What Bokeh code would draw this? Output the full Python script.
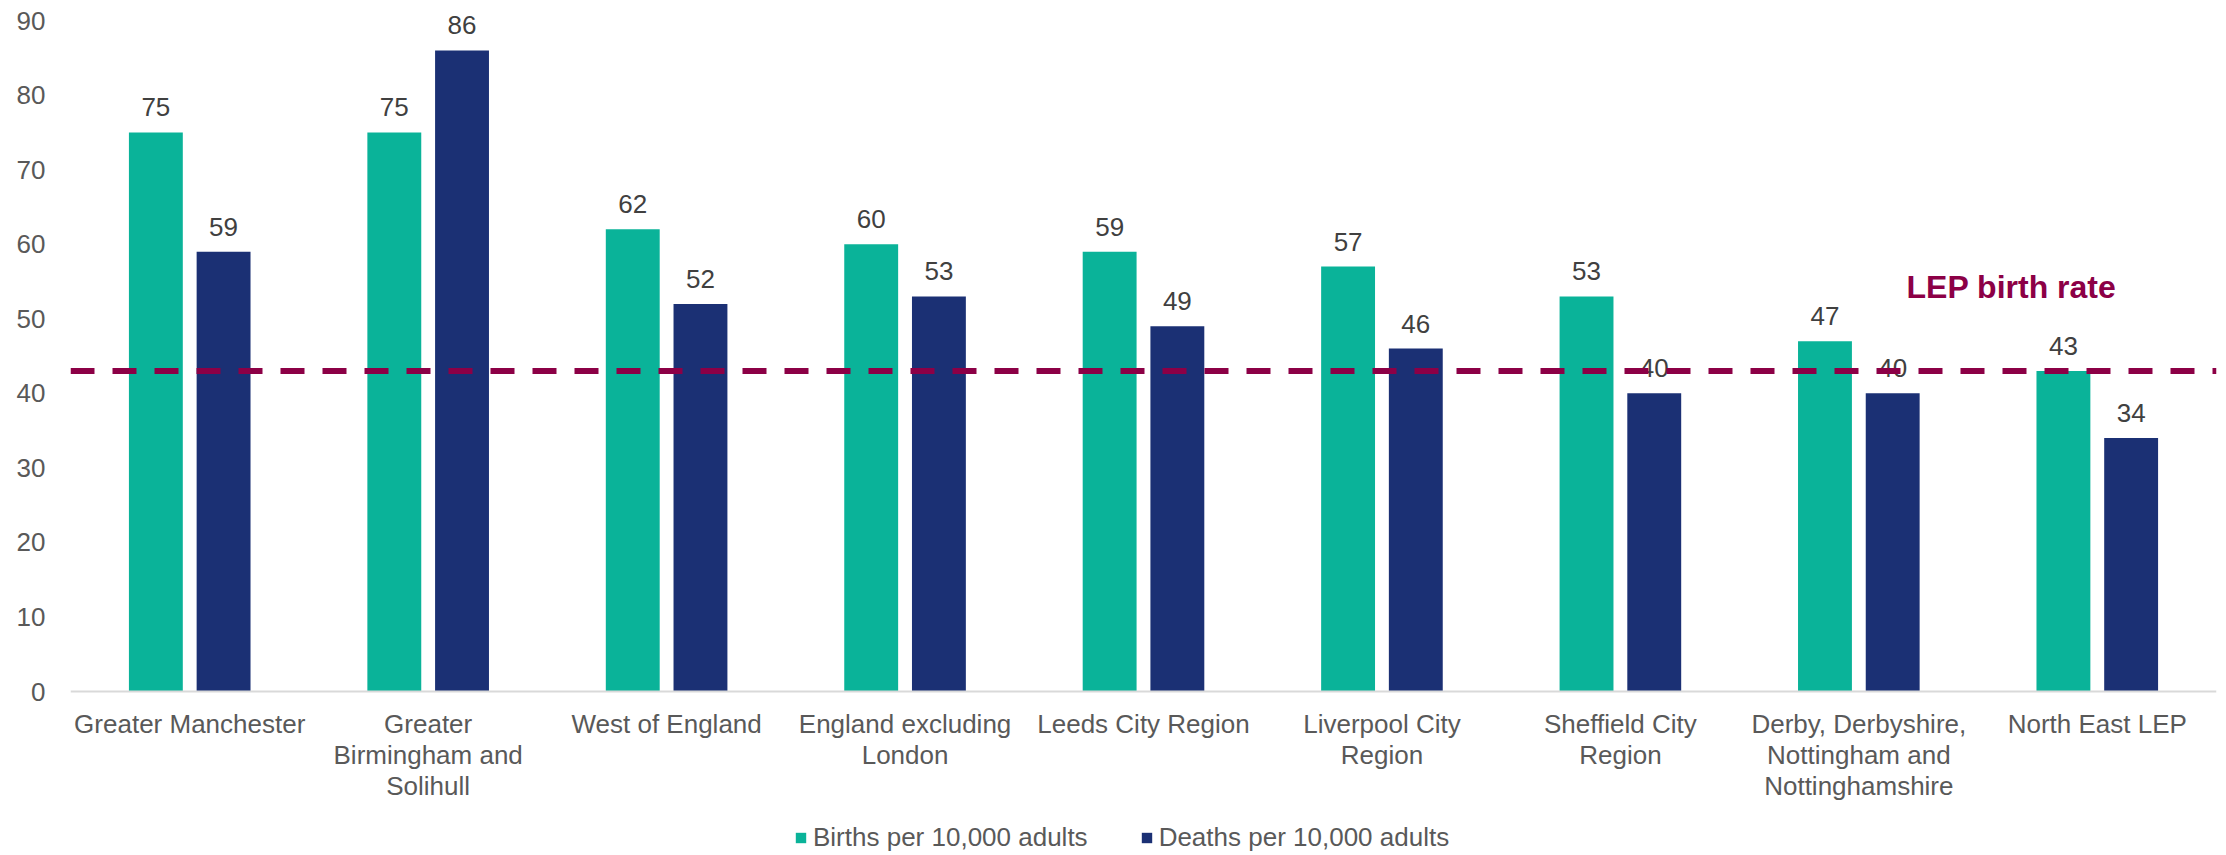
from bokeh.plotting import figure
from bokeh.models import (FactorRange, Range1d, FixedTicker, Span, Label, Legend,
                          LegendItem, ColumnDataSource)
from bokeh.transform import dodge
from bokeh.embed import file_html
from bokeh.resources import INLINE

categories = ["Greater Manchester", "Greater Birmingham and Solihull", "West of England",
              "England excluding London", "Leeds City Region", "Liverpool City Region",
              "Sheffield City Region", "Derby, Derbyshire, Nottingham and Nottinghamshire",
              "North East LEP"]
category_lines = [["Greater Manchester"], ["Greater", "Birmingham and", "Solihull"],
                  ["West of England"], ["England excluding", "London"],
                  ["Leeds City Region"], ["Liverpool City", "Region"],
                  ["Sheffield City", "Region"],
                  ["Derby, Derbyshire,", "Nottingham and", "Nottinghamshire"],
                  ["North East LEP"]]
births = [75, 75, 62, 60, 59, 57, 53, 47, 43]
deaths = [59, 86, 52, 53, 49, 46, 40, 40, 34]
lep_birth_rate = 43
y_ticks = [0, 10, 20, 30, 40, 50, 60, 70, 80, 90]

GREEN = "#0AB399"
NAVY = "#1B3074"
MAROON = "#8C0046"
FONT = "Liberation Sans"
FS = "26px"

src = ColumnDataSource(dict(cat=categories, births=births, deaths=deaths,
                            blab=[str(v) for v in births], dlab=[str(v) for v in deaths]))

p = figure(width=2226, height=855, x_range=FactorRange(factors=categories),
           y_range=Range1d(-22.0, 92.7), output_backend="svg", toolbar_location=None,
           min_border_left=70, min_border_right=10, min_border_top=0, min_border_bottom=0)

# axis baseline
p.add_layout(Span(location=0, dimension="width", line_color="#D9D9D9", line_width=2))

off = 0.142
bw = 0.226
r1 = p.vbar(x=dodge("cat", -off, range=p.x_range), top="births", width=bw, source=src,
            fill_color=GREEN, line_color=None)
r2 = p.vbar(x=dodge("cat", off, range=p.x_range), top="deaths", width=bw, source=src,
            fill_color=NAVY, line_color=None)

for col, lab, dx in (("births", "blab", -off), ("deaths", "dlab", off)):
    p.text(x=dodge("cat", dx, range=p.x_range), y=col, text=lab, source=src,
           text_align="center", text_baseline="alphabetic", y_offset=-25,
           text_font_size=FS, text_color="#404040", text_font={"value": FONT})

p.add_layout(Span(location=lep_birth_rate, dimension="width", line_color=MAROON,
                  line_width=6, line_dash="24 18"))
p.add_layout(Label(x=8.14, y=54.3, text="LEP birth rate", text_align="center",
                   text_baseline="middle", text_font_size="32px", text_font_style="bold",
                   text_color=MAROON, text_font=FONT))

# category labels below the baseline, one text row per line index
max_lines = max(len(l) for l in category_lines)
for j in range(max_lines):
    cats_j = [c for c, l in zip(categories, category_lines) if len(l) > j]
    txt_j = [l[j] for l in category_lines if len(l) > j]
    p.text(x=cats_j, y=[0] * len(cats_j), text=txt_j, y_offset=32 + 31 * j,
           text_align="center", text_baseline="middle",
           text_font_size=FS, text_color="#595959", text_font={"value": FONT})

p.xgrid.visible = False
p.ygrid.visible = False
p.outline_line_color = None
p.xaxis.visible = False

p.yaxis.ticker = FixedTicker(ticks=y_ticks)
p.yaxis.axis_line_color = None
p.yaxis.major_tick_line_color = None
p.yaxis.minor_tick_line_color = None
p.yaxis.major_label_standoff = 19
p.yaxis.major_label_text_font_size = FS
p.yaxis.major_label_text_color = "#595959"
p.yaxis.major_label_text_font = FONT

legend = Legend(items=[LegendItem(label="Births per 10,000 adults", renderers=[r1]),
                       LegendItem(label="Deaths per 10,000 adults", renderers=[r2])],
                orientation="horizontal", location=(724, 2),
                glyph_width=13, glyph_height=13, label_standoff=6, spacing=52,
                label_text_font_size=FS, label_text_color="#595959", label_text_font=FONT,
                border_line_color=None, background_fill_alpha=0, padding=0, margin=0)
p.add_layout(legend, "center")

open("out.html", "w").write(file_html(p, INLINE))
